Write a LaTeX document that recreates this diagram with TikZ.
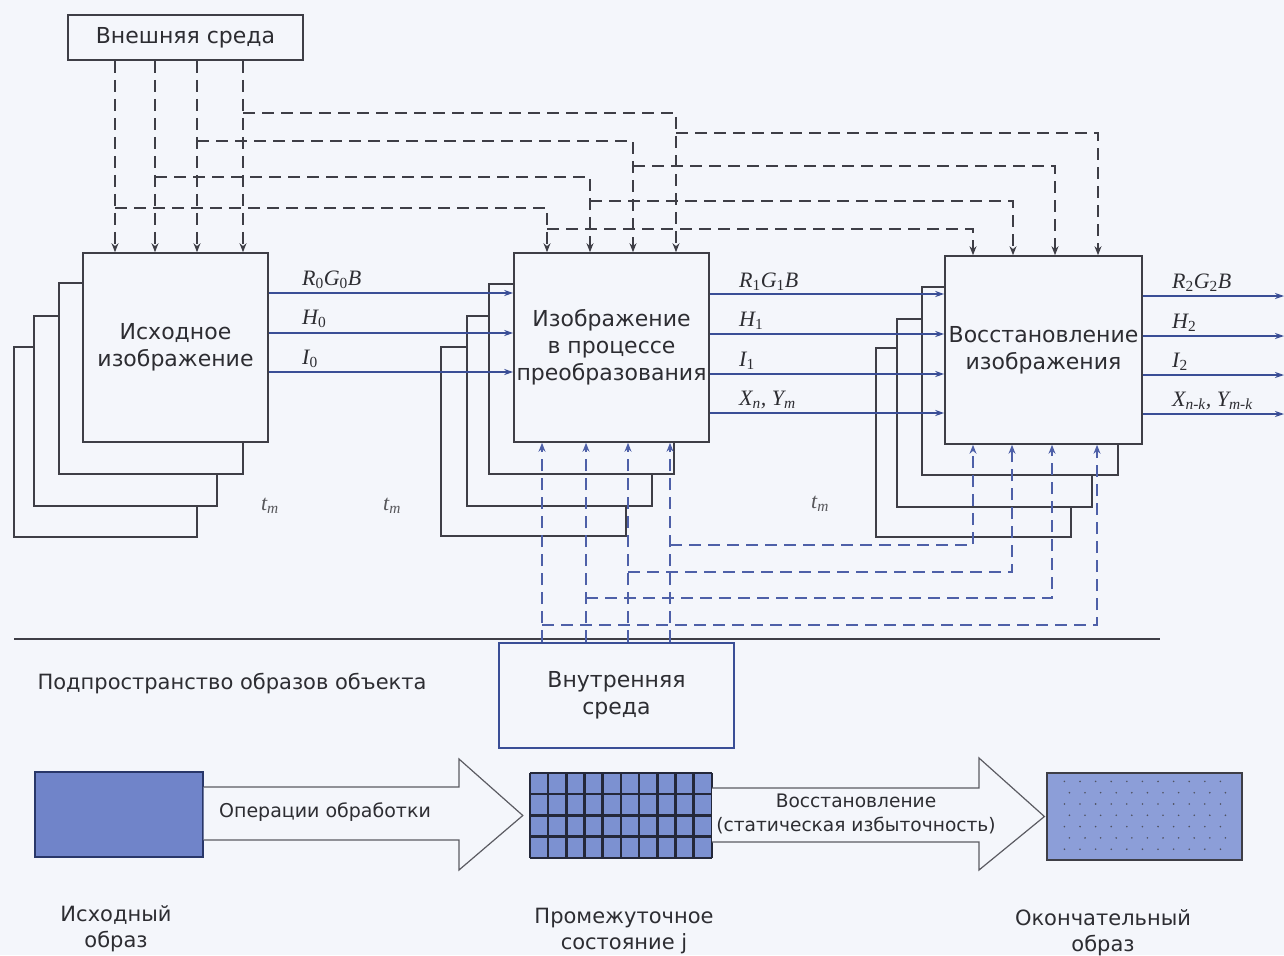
\documentclass[tikz,border=0pt]{standalone}
\usepackage{fontspec}
\setmainfont{DejaVu Sans}
\newfontfamily\symserif{Liberation Serif}
\usepackage{tikz}
\usetikzlibrary{arrows.meta, calc}
\definecolor{paper}{RGB}{244,246,251}
\definecolor{ink}{RGB}{62,62,70}
\definecolor{txt}{RGB}{45,45,50}
\definecolor{navy}{RGB}{58,78,150}
\definecolor{navydash}{RGB}{78,96,168}
\definecolor{blueA}{RGB}{112,132,201}
\definecolor{blueB}{RGB}{124,145,209}
\definecolor{blueC}{RGB}{140,158,216}
\definecolor{gridink}{RGB}{36,40,58}
\newcommand{\idx}[1]{\textsubscript{\upshape#1}}

\begin{document}
\begin{tikzpicture}[x=1pt, y=-1pt,
  blk/.style={rectangle, draw=ink, line width=1.6pt, fill=paper,
    inner sep=0pt, align=center, text=txt,
    font=\fontsize{22}{27}\selectfont},
  layerbox/.style={draw=ink, line width=1.6pt, fill=paper},
  flow/.style={-{Stealth[length=9pt, width=6pt]}, line width=2.2pt, color=navy},
  garr/.style={-{Stealth[length=9pt, width=7pt]}, line width=1.3pt, color=ink,
    dash pattern=on 12pt off 7pt},
  barr/.style={-{Stealth[length=9pt, width=7pt]}, line width=1.3pt, color=navydash,
    dash pattern=on 12pt off 7pt},
  sym/.style={font=\symserif\itshape\fontsize{22}{24}\selectfont, text=txt,
    inner sep=0pt, anchor=base west},
  tlbl/.style={font=\symserif\itshape\fontsize{22}{24}\selectfont, text=txt!80},
  capt/.style={font=\fontsize{21}{26}\selectfont, text=txt, align=center},
  hollow/.style={draw=ink!85, line width=1.2pt, fill=paper, line join=miter},
  gridln/.style={draw=gridink, line width=2.6pt}
]
\fill[paper] (0,0) rectangle (1284,955);
\useasboundingbox (0,0) rectangle (1284,955);

\foreach \l/\t/\r/\b in {14/347/197/537, 34/316/217/506, 59/283/243/474}
  \draw[layerbox] (\l,\t) rectangle (\r,\b);
\foreach \l/\t/\r/\b in {441/347/626/536, 467/316/652/506, 489/284/674/474}
  \draw[layerbox] (\l,\t) rectangle (\r,\b);
\foreach \l/\t/\r/\b in {876/348/1071/537, 897/319/1092/507, 922/287/1118/475}
  \draw[layerbox] (\l,\t) rectangle (\r,\b);

\node[blk, minimum width=235, minimum height=45] at (185.5, 37.5)  (ext)  {Внешняя среда};
\node[blk, minimum width=185, minimum height=189] at (175.5, 347.5) (src)  {Исходное\\изображение};
\node[blk, minimum width=195, minimum height=189] at (611.5, 347.5) (proc) {Изображение\\в процессе\\преобразования};
\node[blk, minimum width=197, minimum height=188] at (1043.5, 350) (rest) {Восстановление\\изображения};
\coordinate (rim) at (1284, 0);

\foreach \cx in {115,155,197,243}
  \draw[garr] (ext.south -| \cx,0) -- (src.north -| \cx,0);
\foreach \cx/\ya/\px/\yb/\rx in {243/113/676/133/1098, 197/141/633/166/1055,
                                 155/177/590/201/1013, 115/208/547/229/973} {
  \draw[garr] (\cx,\ya) -| (proc.north -| \px,0);
  \draw[garr] (\px,\yb) -| (rest.north -| \rx,0);
}

\foreach \y in {293,333,372}
  \draw[flow] (src.east |- 0,\y) -- (proc.west |- 0,\y);
\foreach \y in {294,334,374,413}
  \draw[flow] (proc.east |- 0,\y) -- (rest.west |- 0,\y);
\foreach \y in {296,336,375,414}
  \draw[flow] (rest.east |- 0,\y) -- (rim |- 0,\y);

\node[sym] at (302, 285) (rgb0) {R\idx{0}G\idx{0}B};
\node[sym] at (302, 324) (h0)   {H\idx{0}};
\node[sym] at (302, 364) (i0)   {I\idx{0}};
\node[sym] at (739, 287) (rgb1) {R\idx{1}G\idx{1}B};
\node[sym] at (739, 326) (h1)   {H\idx{1}};
\node[sym] at (739, 366) (i1)   {I\idx{1}};
\node[sym] at (739, 405) (xy1)  {X\textsubscript{n}, Y\textsubscript{m}};
\node[sym] at (1172, 288) (rgb2) {R\idx{2}G\idx{2}B};
\node[sym] at (1172, 328) (h2)   {H\idx{2}};
\node[sym] at (1172, 367) (i2)   {I\idx{2}};
\node[sym] at (1172, 406) (xy2)  {X\textsubscript{n-k}, Y\textsubscript{m-k}};

\node[tlbl] at (270, 506) (tm1) {t\textsubscript{m}};
\node[tlbl] at (392, 506) (tm2) {t\textsubscript{m}};
\node[tlbl] at (820, 504) (tm3) {t\textsubscript{m}};

\draw[ink, line width=1.3pt] (14,639) -- (1160,639);
\node[blk, draw=navy, minimum width=235, minimum height=105] at (616.5, 695.5) (int) {Внутренняя\\среда};
\node[capt, anchor=west] at (34, 684) (space) {Подпространство образов объекта};

\foreach \ix in {542,586,628,670}
  \draw[barr] (int.north -| \ix,0) -- (proc.south -| \ix,0);
\foreach \ix/\y/\rx in {670/545/973, 628/572/1012, 586/598/1052, 542/625/1097}
  \draw[barr] (\ix,\y) -| (rest.south -| \rx,0);

\node[draw=navy!70!black, line width=1.2pt, fill=blueA, minimum width=168, minimum height=85] at (119, 814.5) (orig) {};
\node[fill=blueB, minimum width=182, minimum height=85, inner sep=0pt] at (621, 815.5) (mid) {};
\foreach \i in {0,...,10}
  \draw[gridln] ($(mid.north west)+(\i*18.2,0)$) -- ($(mid.south west)+(\i*18.2,0)$);
\foreach \j in {0,...,4}
  \draw[gridln] ($(mid.north west)+(0,\j*21.25)$) -- ($(mid.north east)+(0,\j*21.25)$);
\node[draw=ink, line width=1.2pt, fill=blueC, minimum width=195, minimum height=87] at (1144.5, 816.5) (fin) {};
\foreach \r in {0,...,6}
  \foreach \c in {0,...,10}
    \fill[gridink!80] ($(fin.north west)+({18+\c*15.6+mod(\r,2)*5}, {9+\r*11.3})$) circle (0.9pt);

\draw[hollow] (orig.east |- 0,787) -- (459,787) -- (459,759) -- ($(mid.west)+(-7,0)$)
  -- (459,870) -- (459,840) -- (orig.east |- 0,840);
\draw[hollow] (mid.east |- 0,788) -- (979,788) -- (979,758) -- ($(fin.west)+(-2,0)$)
  -- (979,870) -- (979,842) -- (mid.east |- 0,842);
\node[capt, font=\fontsize{19}{24}\selectfont] at (325, 812) (ops) {Операции обработки};
\node[capt, font=\fontsize{18.6}{24}\selectfont] at (856, 814) (recov) {Восстановление\\(статическая избыточность)};

\node[capt] at (116, 929)  (c1) {Исходный\\образ};
\node[capt] at (624, 931)  (c2) {Промежуточное\\состояние j};
\node[capt] at (1103, 933) (c3) {Окончательный\\образ};
\end{tikzpicture}
\end{document}
